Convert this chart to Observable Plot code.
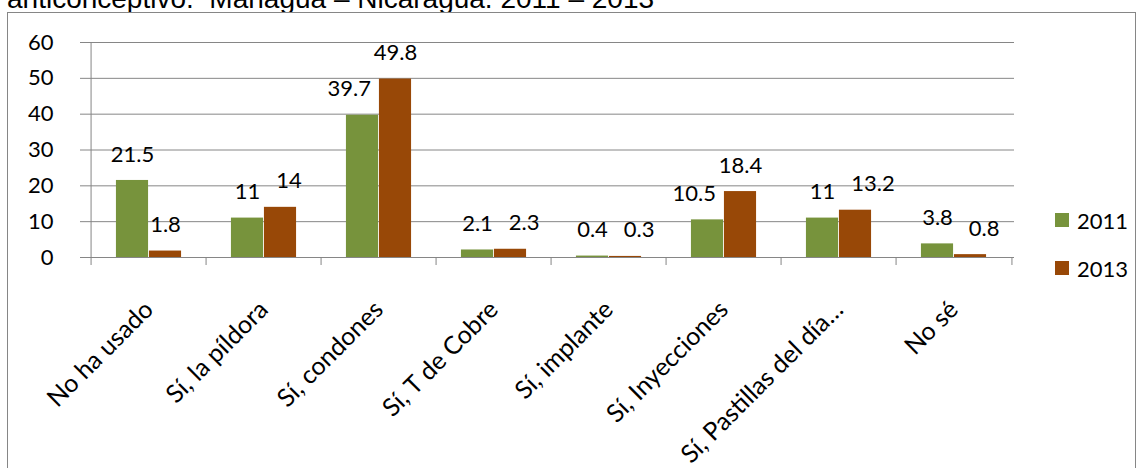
<!DOCTYPE html>
<html>
<head>
<meta charset="utf-8">
<script src="https://cdn.jsdelivr.net/npm/d3@7"></script>
<script src="https://cdn.jsdelivr.net/npm/@observablehq/plot@0.6"></script>
<style>
  html, body { margin: 0; padding: 0; background: #fff; }
  #wrap { position: relative; width: 1143px; height: 468px; overflow: hidden; background: #fff; }
  #title { position: absolute; left: 7px; top: -15px; font-family: "Liberation Sans", Arial, sans-serif; font-size: 28px; line-height: 28px; color: #000; white-space: pre; }
  #box { position: absolute; left: 7px; top: 12px; width: 1127px; height: 480px; border: 1px solid #868686; background: #fff; }
  #chart { position: absolute; left: 0; top: 0; }
  .leg { position: absolute; font-family: Lato, "Open Sans", sans-serif; font-size: 22px; color: #000; display: flex; align-items: center; height: 20px; }
  .sw { display: inline-block; width: 14px; height: 14px; margin-right: 8px; }
</style>
</head>
<body>
<div id="wrap">
  <div id="title">anticonceptivo.  Managua – Nicaragua. 2011 – 2013</div>
  <div id="box"></div>
  <div id="chart"></div>
  <div id="legend"></div>
</div>
<script>
const categories = ["No ha usado", "Sí, la píldora", "Sí, condones", "Sí, T de Cobre", "Sí, implante", "Sí, Inyecciones", "Sí, Pastillas del día…", "No sé"];
const years = ["2011", "2013"];
const values2011 = [21.5, 11, 39.7, 2.1, 0.4, 10.5, 11, 3.8];
const values2013 = [1.8, 14, 49.8, 2.3, 0.3, 18.4, 13.2, 0.8];
const yTicks = [0, 10, 20, 30, 40, 50, 60];
const colors = ["#77933C", "#984807"];

const W = 1143, H = 468;
const mL = 87, mR = 129, mT = 42, mB = 211;
const step = (W - mL - mR) / categories.length;
const barW = 33;
const gap = (step - 2 * barW) / 2;
const gray = "#868686";
const font = "Lato, 'Open Sans', sans-serif";
const labelSize = 22;
const labelRaise = 26;

// value-label placement: centred on its bar, nudged away from a taller neighbouring bar
// and from the neighbouring label when they would collide (as in the original chart)
const ctx = document.createElement("canvas").getContext("2d");
ctx.font = `${labelSize}px Lato`;
const pxPerUnit = (H - mT - mB) / 60;
const barMargin = 8, minGap = 16, lineH = 20;
const rows2011 = [], rows2013 = [];
categories.forEach((c, i) => {
  const a = values2011[i], b = values2013[i];
  const wa = ctx.measureText(String(a)).width, wb = ctx.measureText(String(b)).width;
  const ya = -a * pxPerUnit - labelRaise, yb = -b * pxPerUnit - labelRaise;
  let da = -barW / 2, db = barW / 2;
  if (b > a && da + wa / 2 > 0 && ya + lineH / 2 > -b * pxPerUnit) da -= (da + wa / 2) + barMargin;
  if (a > b && db - wb / 2 < 0 && yb + lineH / 2 > -a * pxPerUnit) db += (wb / 2 - db) + barMargin;
  if (Math.abs(ya - yb) < lineH) {
    const g = (db - wb / 2) - (da + wa / 2);
    if (g < minGap) db += minGap - g;
  }
  rows2011.push({cat: c, year: years[0], value: a, dx: da});
  rows2013.push({cat: c, year: years[1], value: b, dx: db});
});

const labelMarks = rows2011.concat(rows2013).map(r =>
  Plot.text([r], {x: "cat", y: "value", text: d => String(d.value), dx: r.dx, dy: -labelRaise, fontSize: labelSize, fill: "#000"})
);

const plot = Plot.plot({
  width: W, height: H,
  marginLeft: mL, marginRight: mR, marginTop: mT, marginBottom: mB,
  style: {fontFamily: font, fontSize: "22px", color: "#000", background: "transparent", overflow: "visible"},
  x: {type: "band", domain: categories, padding: 0},
  y: {domain: [0, 60]},
  marks: [
    Plot.gridY(yTicks, {stroke: gray, strokeOpacity: 1}),
    Plot.axisY(yTicks, {tickSize: 7, tickPadding: 27, stroke: gray, fontSize: 22, label: null, fill: "#000"}),
    Plot.ruleY([0], {stroke: gray}),
    Plot.ruleX([categories[0]], {dx: -step / 2, stroke: gray}),
    Plot.axisX({tickSize: 8, tickFormat: () => "", dx: -step / 2, stroke: gray, label: null}),
    Plot.axisX([categories[categories.length - 1]], {tickSize: 8, tickFormat: () => "", dx: step / 2, stroke: gray, label: null}),
    Plot.axisX({tickSize: 0, tickPadding: 0, tickRotate: -45, textAnchor: "end", lineAnchor: "middle", dx: 0, dy: 48, fontSize: 25, label: null, fill: "#000"}),
    Plot.barY(rows2011, {x: "cat", y: "value", fill: colors[0], insetLeft: gap, insetRight: step - gap - barW}),
    Plot.barY(rows2013, {x: "cat", y: "value", fill: colors[1], insetLeft: gap + barW, insetRight: gap}),
    ...labelMarks
  ]
});
document.getElementById("chart").appendChild(plot);

const legend = document.getElementById("legend");
const legTops = [210, 258];
years.forEach((y, i) => {
  const d = document.createElement("div");
  d.className = "leg";
  d.style.left = "1055px";
  d.style.top = legTops[i] + "px";
  d.innerHTML = `<span class="sw" style="background:${colors[i]}"></span>${y}`;
  legend.appendChild(d);
});
</script>
</body>
</html>
